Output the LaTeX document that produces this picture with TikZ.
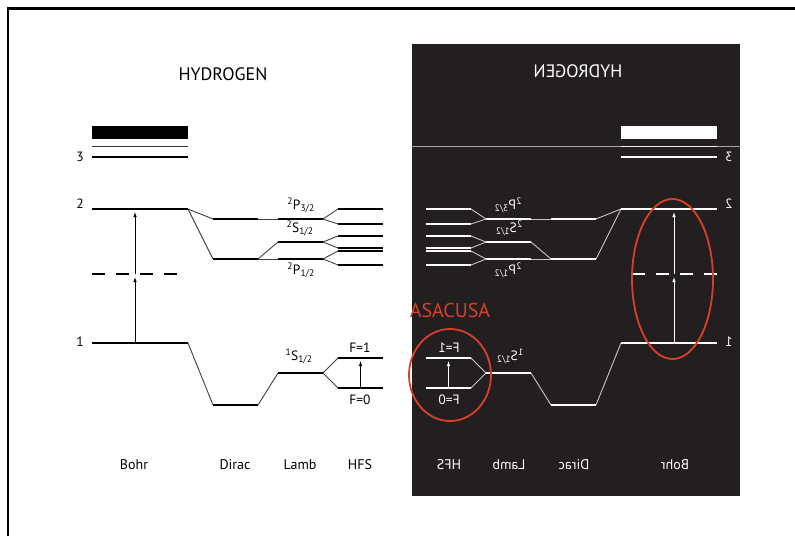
\documentclass[tikz,border=0pt]{standalone}
\usepackage{fontspec}
\setmainfont{PT Sans}
\usetikzlibrary{arrows.meta,shapes.geometric}
\definecolor{panelgray}{HTML}{231F20}
\definecolor{asared}{RGB}{217,64,43}

% one half of the level scheme, drawn in the current colour
\newcommand{\hydrogen}{%
  % Bohr
  \node[band] (bcont) at (140,132.5) {};
  \node[thinlev] (b3top) at (140,146.5) {};
  \node[lev] (b3) at (140,157) {};
  \node[lev] (b2) at (140,209) {};
  \node[lev] (b1) at (140,343) {};
  \coordinate (mida) at (92,274);
  \coordinate (midb) at (177,274);
  \coordinate (bx) at (135,274);
  \node[anchor=east] (n3) at (85,157) {3};
  \node[anchor=east] (n2) at (85,204) {2};
  \node[anchor=east] (n1) at (85,342) {1};
  % Dirac
  \node[short] (d2p3) at (235.5,219) {};
  \node[short] (d2) at (235.5,259) {};
  \node[short] (d1) at (235.5,405) {};
  % Lamb
  \node[short] (l2p3) at (300.5,219) {};
  \node[short] (l2s) at (300.5,242) {};
  \node[short] (l2p1) at (300.5,259) {};
  \node[short] (l1) at (300.5,373) {};
  % HFS
  \node[short] (h1) at (360.5,209) {};
  \node[short] (h2) at (360.5,224) {};
  \node[short] (h3) at (360.5,236) {};
  \node[short] (h4) at (360.5,248) {};
  \node[short] (h5) at (360.5,251) {};
  \node[short] (h6) at (360.5,265) {};
  \node[short] (f1) at (360.5,358) {};
  \node[short] (f0) at (360.5,388) {};
  % term labels
  \node (t2p3) at (301,205) {\textsuperscript{2}P\textsubscript{3/2}};
  \node (t2s) at (300,228) {\textsuperscript{2}S\textsubscript{1/2}};
  \node (t2p1) at (301,270) {\textsuperscript{2}P\textsubscript{1/2}};
  \node (t1s) at (299,356) {\textsuperscript{1}S\textsubscript{1/2}};
  \node (tf1) at (360,348) {F=1};
  \node (tf0) at (360,400) {F=0};
  % column labels
  \node[col] (cbohr) at (134,465) {Bohr};
  \node[col] (cdirac) at (235,465) {Dirac};
  \node[col] (clamb) at (300,465) {Lamb};
  \node[col] (chfs) at (360,465) {HFS};
  % splittings
  \draw[conn] (b2.east) -- (d2p3.west);
  \draw[conn] (b2.east) -- (d2.west);
  \draw[conn] (d2p3.east) -- (l2p3.west);
  \draw[conn] (d2.east) -- (l2s.west);
  \draw[conn] (d2.east) -- (l2p1.west);
  \draw[conn] (b1.east) -- (d1.west);
  \draw[conn] (d1.east) -- (l1.west);
  \foreach \a/\b/\c in {l2p3/h1/h2, l2s/h3/h4, l2p1/h5/h6, l1/f1/f0} {
    \draw[conn] (\a.east) -- (\b.west);
    \draw[conn] (\a.east) -- (\c.west);
  }
  % transitions
  \draw[line width=1.5, dash pattern=on 13 off 11] (mida) -- (midb);
  \draw[arr] (bx |- b1.center) -- (bx);
  \draw[arr] (bx) -- (bx |- b2.center);
  \draw[arr] (f0.center) -- (f1.center);
}

\begin{document}
\begin{tikzpicture}[
  x=1pt, y=-1pt,
  every node/.style={font=\fontsize{13.5}{15}\selectfont, inner sep=1pt},
  lev/.style={fill, minimum width=96, minimum height=1.9, inner sep=0, outer sep=0},
  short/.style={lev, minimum width=45},
  band/.style={lev, minimum height=13},
  thinlev/.style={lev, minimum height=0.9, opacity=0.8},
  conn/.style={line width=0.9, draw opacity=0.75},
  arr/.style={line width=0.8, -{Latex[length=5, width=3.5]}, shorten >=3},
  title/.style={font=\fontsize{18}{20}\selectfont},
  col/.style={font=\fontsize{14}{16}\selectfont},
  ring/.style={ellipse, draw=asared, line width=1.8, inner sep=0},
]
\useasboundingbox (0,0) rectangle (795,536);
% frame
\draw[line width=2.2] (8,536) -- (8,8.5) -- (795,8.5);

% hydrogen
\node[title] (ltitle) at (223,74) {HYDROGEN};
\begin{scope}[name prefix=L-]
  \hydrogen
\end{scope}

% mirror image on the dark panel
\node[fill=panelgray, minimum width=328, minimum height=452, inner sep=0] (panel) at (576,270) {};
\draw[gray!70, line width=0.8] (412,146.5) -- (740,146.5);
\node[title, white, xscale=-1] (rtitle) at (578,71) {HYDROGEN};
\begin{scope}[shift={(809,0)}, xscale=-1, transform shape, white, name prefix=R-]
  \hydrogen
\end{scope}

% measured transitions
\node[ring, minimum width=81, minimum height=160] (rbohr) at (672.5,279) {};
\node[ring, minimum width=82, minimum height=92] (rhfs) at (450,375) {};
\node[font=\fontsize{20}{22}\selectfont, text=asared] (asacusa) at (450,310) {ASACUSA};
\end{tikzpicture}
\end{document}
